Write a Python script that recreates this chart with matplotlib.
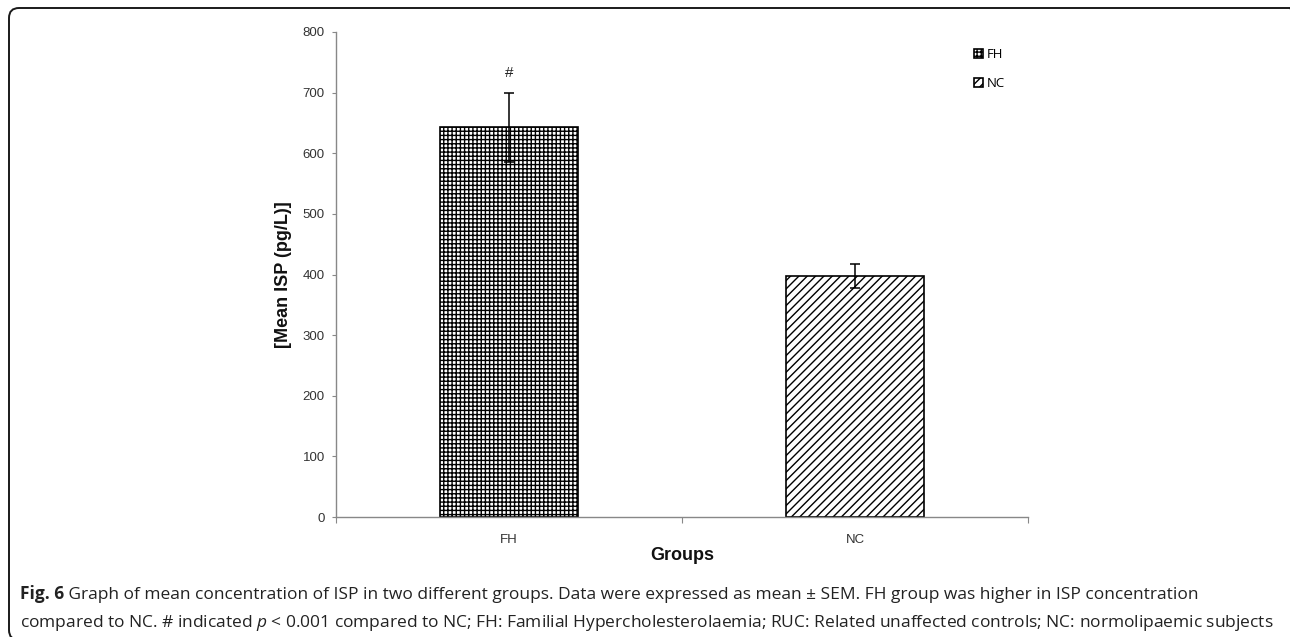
import matplotlib
matplotlib.use("Agg")
import matplotlib.pyplot as plt
from matplotlib.patches import FancyBboxPatch, Patch
from matplotlib.transforms import IdentityTransform

# ---- data ----
groups = ["FH", "NC"]
means = [643, 397]
sems = [57, 20]
hatches = ["++++", "////"]
yticks = [0, 100, 200, 300, 400, 500, 600, 700, 800]
ylabel = "[Mean ISP (pg/L)]"
xlabel = "Groups"
sig_mark = "#"
caption_bold = "Fig. 6"
caption1 = " Graph of mean concentration of ISP in two different groups. Data were expressed as mean ± SEM. FH group was higher in ISP concentration"
caption2 = r"compared to NC. # indicated $p$ < 0.001 compared to NC; FH: Familial Hypercholesterolaemia; RUC: Related unaffected controls; NC: normolipaemic subjects"

plt.rcParams['hatch.linewidth'] = 1.0
plt.rcParams['mathtext.fontset'] = 'custom'
plt.rcParams['mathtext.rm'] = 'Open Sans'
plt.rcParams['mathtext.it'] = 'Open Sans:italic'
plt.rcParams['mathtext.bf'] = 'Open Sans:bold'

W, H = 1290, 637
fig = plt.figure(figsize=(W / 100, H / 100), dpi=100)

# outer rounded frame
frame = FancyBboxPatch((9, -3), 1291, 632, boxstyle="round,pad=0,rounding_size=10",
                       transform=IdentityTransform(), facecolor="none",
                       edgecolor="#1a1a1a", linewidth=1.4, clip_on=False)
fig.patches.append(frame)

ax = fig.add_axes([336 / W, 120 / H, 692 / W, 485 / H])
x = list(range(len(groups)))
bars = ax.bar(x, means, width=0.4, color="white", edgecolor="black", linewidth=1.2,
              yerr=sems, error_kw=dict(ecolor="black", elinewidth=1.1, capsize=3.5, capthick=1.1))
for b, h in zip(bars, hatches):
    b.set_hatch(h)

ax.set_xlim(-0.5, 1.5)
ax.set_ylim(0, 800)
ax.set_yticks(yticks)
ax.set_xticks(x)
ax.set_xticklabels(groups, fontfamily="Liberation Sans", fontsize=9.5, color="#333333")
ax.set_xticks([-0.5, 0.5, 1.5], minor=True)
ax.tick_params(axis="x", which="major", length=0, pad=12)
ax.tick_params(axis="x", which="minor", length=4, width=0.8, color="#888888", direction="out")
ax.tick_params(axis="y", length=3, width=0.8, color="#888888", pad=5, labelsize=9.5, labelcolor="#333333")
for lab in ax.get_yticklabels():
    lab.set_fontfamily("Liberation Sans")
for s in ["top", "right"]:
    ax.spines[s].set_visible(False)
for s in ["left", "bottom"]:
    ax.spines[s].set_color("#888888")
    ax.spines[s].set_linewidth(1.0)

ax.text(x[0], means[0] + sems[0] + 20, sig_mark, ha="center", va="bottom",
        fontfamily="Liberation Sans", fontsize=11, color="#222222")

fig.text(283 / W, 1 - 275 / H, ylabel, rotation=90, ha="center", va="center",
         fontfamily="Liberation Sans", fontweight="bold", fontsize=13, color="#111111")
fig.text(682 / W, 1 - 556 / H, xlabel, ha="center", va="center",
         fontfamily="Liberation Sans", fontweight="bold", fontsize=13, color="#111111")

handles = [Patch(facecolor="white", edgecolor="black", hatch=h, linewidth=1.2) for h in hatches]
ax.legend(handles, groups, loc="upper left", bbox_to_anchor=(974 / W, 1 - 48 / H),
          bbox_transform=fig.transFigure, frameon=False,
          prop={"family": "Open Sans", "size": 9.5},
          handlelength=0.7, handleheight=0.7, handletextpad=0.25, labelspacing=1.25,
          borderpad=0, borderaxespad=0)

cap_size = 12.5
renderer = fig.canvas.get_renderer()
tb = fig.text(20 / W, 1 - 599 / H, caption_bold, ha="left", va="baseline",
              fontfamily="Open Sans", fontweight="bold", fontsize=cap_size, color="#222222")
bb = tb.get_window_extent(renderer)
fig.text(bb.x1 / W, 1 - 599 / H, caption1, ha="left", va="baseline",
         fontfamily="Open Sans", fontsize=cap_size, color="#222222")
fig.text(20 / W, 1 - 627 / H, caption2, ha="left", va="baseline",
         fontfamily="Open Sans", fontsize=cap_size, color="#222222")

fig.savefig("out.png", dpi=100)
